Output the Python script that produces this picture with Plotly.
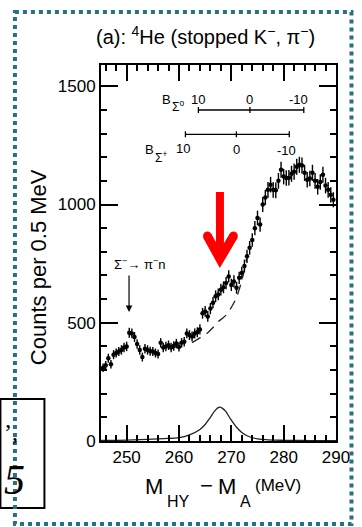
import numpy as np
import plotly.graph_objects as go

# ---------------- data ----------------
bin_centers = list(np.arange(245.5, 289.75, 0.5))
counts = [310, 320, 350, 325, 365, 372, 378, 385, 395, 400,
          458, 455, 440, 410, 385, 355, 390, 385, 380, 378,
          372, 368, 415, 395, 400, 405, 395, 402, 412, 398,
          415, 420, 455, 448, 442, 455, 460, 472, 540, 548,
          527, 560, 585, 612, 620, 640, 650, 668, 696, 660,
          675, 648, 690, 710, 740, 781, 817, 850, 900, 943,
          915, 1000, 1030, 1062, 1084, 1062, 1060, 1100, 1147, 1118,
          1112, 1113, 1130, 1139, 1160, 1168, 1165, 1134, 1105, 1110,
          1134, 1100, 1075, 1095, 1126, 1080, 1062, 1041, 1020]
errors = [18, 18, 19, 18, 19, 19, 19, 20, 20, 20,
          21, 21, 21, 20, 20, 19, 20, 20, 19, 19,
          19, 19, 20, 20, 20, 20, 20, 20, 20, 20,
          20, 20, 21, 21, 21, 21, 21, 22, 23, 23,
          23, 24, 24, 25, 25, 25, 25, 26, 26, 26,
          26, 25, 26, 27, 27, 28, 29, 29, 30, 31,
          30, 32, 32, 33, 33, 33, 33, 33, 34, 33,
          33, 33, 34, 34, 34, 34, 34, 34, 33, 33,
          34, 33, 33, 33, 34, 33, 33, 32, 32]

bg_x = [262.5, 264, 265.5, 266.5, 267.5, 268.5, 269.3, 270, 270.8, 271.5, 272.3, 272.9]
bg_y = [416, 436, 458, 480, 505, 522, 540, 565, 598, 640, 705, 770]

peak_x = [245, 250, 254, 257, 260, 262, 264, 265, 266, 266.8, 267.4, 267.8,
          268.3, 268.9, 269.9, 271, 272, 273.2, 275, 277, 280, 285, 290]
peak_y = [2, 4, 7, 10, 14, 26, 49, 70, 100, 126, 140, 143,
          138, 126, 91, 58, 36, 20, 9, 5, 3, 2, 1]

x_ticks = [250, 260, 270, 280, 290]
y_ticks = [0, 500, 1000, 1500]

# ---------------- figure ----------------
W, H = 362, 527
L, R, T, B = 101, 18, 65, 86
PW, PH = W - L - R, H - T - B


def px(x):
    return (x - L) / PW


def py(y):
    return (H - B - y) / PH


FONT = "Liberation Sans, Arial, Helvetica, sans-serif"

fig = go.Figure()

fig.add_trace(go.Scatter(x=peak_x, y=peak_y, mode="lines",
                         line=dict(color="#222", width=1.3, shape="spline"),
                         hoverinfo="skip", showlegend=False))
fig.add_trace(go.Scatter(x=bg_x, y=bg_y, mode="lines",
                         line=dict(color="#222", width=1.3, dash="10px,7px", shape="spline"),
                         hoverinfo="skip", showlegend=False))
fig.add_trace(go.Scatter(x=bin_centers, y=counts, mode="markers",
                         marker=dict(color="black", size=4.5),
                         error_y=dict(type="data", array=errors, visible=True,
                                      width=0, thickness=1.4, color="black"),
                         showlegend=False))

axis_common = dict(showgrid=False, zeroline=False, showline=True, linecolor="black",
                   linewidth=2, mirror="allticks", ticks="inside", tickcolor="black",
                   tickwidth=1.5, tickfont=dict(family=FONT, size=17, color="black"))

fig.update_xaxes(range=[245.1, 290], tickvals=x_ticks, ticklen=16,
                 minor=dict(dtick=2, tick0=250, ticklen=6, ticks="inside", tickcolor="black", tickwidth=1.5),
                 **axis_common)
fig.update_yaxes(range=[0, 1590], tickvals=y_ticks, ticklen=17,
                 minor=dict(dtick=100, tick0=0, ticklen=6, ticks="inside", tickcolor="black", tickwidth=1.5),
                 **axis_common)

shapes = []
ann = []


def text(s, x, y, size, **kw):
    d = dict(text=s, x=px(x), y=py(y), xref="paper", yref="paper", showarrow=False,
             xanchor="center", yanchor="middle",
             font=dict(family=kw.pop("family", FONT), size=size, color=kw.pop("color", "black")))
    d.update(kw)
    ann.append(d)


def seg(x0, y0, x1, y1, width, color="black"):
    shapes.append(dict(type="line", xref="paper", yref="paper",
                       x0=px(x0), y0=py(y0), x1=px(x1), y1=py(y1),
                       line=dict(color=color, width=width)))


# title
text("(a): <sup>4</sup>He (stopped K<sup>−</sup>, π<sup>−</sup>)", 209, 35, 20)

# axis titles
text("Counts per 0.5 MeV", 36, 267, 22, textangle=-90)
text("M", 156, 486, 22)
text("HY", 181, 501, 16)
text("−", 210, 485, 22)
text("M", 231, 486, 22)
text("A", 250, 502, 16)
text("(MeV)", 284, 485, 17)

# binding-energy scales
seg(201.7, 110, 310.7, 110, 1.3)
for xx in (201.7, 255, 310.7):
    seg(xx, 107, xx, 113, 1.3)
text("B", 169, 99, 13)
text("Σ<sup>o</sup>", 181, 106, 12)
text("10", 201.5, 99, 13)
text("0", 255, 99, 13)
text("-10", 305, 99, 13)

seg(188.3, 134.3, 295.7, 134.3, 1.3)
for xx in (188.3, 241, 295.7):
    seg(xx, 131.3, xx, 137.3, 1.3)
text("B", 151, 149, 13)
text("Σ<sup>+</sup>", 163, 157, 12)
text("10", 186, 148, 13)
text("0", 241, 149, 13)
text("-10", 293, 150, 13)

# Sigma- -> pi- n annotation
text("Σ<sup>−</sup>→ π<sup>−</sup>n", 141, 264, 13)
ann.append(dict(text="", x=px(130), y=py(312), ax=0, ay=-38, xref="paper", yref="paper",
                showarrow=True, arrowhead=2, arrowsize=1.1, arrowwidth=1.2, arrowcolor="black"))

# red arrow
RED = "#ff0000"
seg(224, 192, 224, 256, 8, RED)
shapes.append(dict(type="path", xref="paper", yref="paper",
                   path=f"M {px(211)},{py(236)} L {px(224)},{py(259)} L {px(238)},{py(236)}",
                   line=dict(color=RED, width=9)))
for (cx, cy) in ((211, 236), (238, 236)):
    shapes.append(dict(type="circle", xref="paper", yref="paper",
                       x0=px(cx - 4.5), x1=px(cx + 4.5), y0=py(cy - 4.5), y1=py(cy + 4.5),
                       fillcolor=RED, line=dict(width=0)))

# black box at bottom-left (slide fragment)
shapes.append(dict(type="rect", xref="paper", yref="paper",
                   x0=px(-3), x1=px(42.5), y0=py(399), y1=py(508),
                   line=dict(color="black", width=2)))
text("’,", 8, 432, 24, family="Liberation Serif, Times New Roman, serif")
text("<i>5</i>", 12, 480, 42, family="Liberation Serif, Times New Roman, serif")

# dotted teal border
shapes.append(dict(type="rect", xref="paper", yref="paper",
                   x0=px(12), x1=px(360), y0=py(12), y1=py(524),
                   line=dict(color="#2c6f80", width=4, dash="dot")))

fig.update_layout(width=W, height=H, margin=dict(l=L, r=R, t=T, b=B),
                  paper_bgcolor="white", plot_bgcolor="white",
                  shapes=shapes, annotations=ann, showlegend=False)

fig.write_html("out.html")
